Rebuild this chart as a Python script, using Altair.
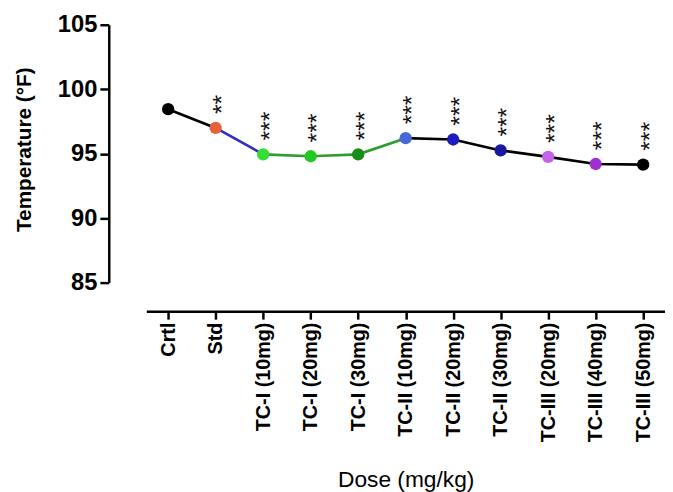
import altair as alt
import pandas as pd

doses = ["Crtl", "Std", "TC-I (10mg)", "TC-I (20mg)", "TC-I (30mg)",
         "TC-II (10mg)", "TC-II (20mg)", "TC-II (30mg)",
         "TC-III (20mg)", "TC-III (40mg)", "TC-III (50mg)"]
temps = [98.45, 97.0, 94.95, 94.8, 94.95, 96.2, 96.1, 95.25, 94.75, 94.2, 94.15]
signif = ["", "**", "***", "***", "***", "***", "***", "***", "***", "***", "***"]
y_ticks = [85, 90, 95, 100, 105]

point_colors = ["#000000", "#e2643c", "#35de35", "#22c822", "#1a8c1a",
                "#4868d8", "#1c1cc0", "#1818a0", "#c462ea", "#a02ed2", "#000000"]
# line segments: (segment id, first index, last index)
segments = [("A", 0, 1), ("B", 1, 2), ("C", 2, 5), ("D", 5, 10)]
segment_colors = ["#000000", "#3030bc", "#2e9c2e", "#000000"]

pts = pd.DataFrame({"dose": doses, "temp": temps, "sig": signif})
rows = []
for seg, a, b in segments:
    for i in range(a, b + 1):
        rows.append({"dose": doses[i], "temp": temps[i], "seg": seg, "ord": i})
lines_df = pd.DataFrame(rows)

FONT = "Liberation Sans"

x_enc = alt.X(
    "dose:N",
    scale=alt.Scale(type="point", domain=doses, padding=0.46),
    axis=alt.Axis(
        title="Dose (mg/kg)", labelAngle=270, labelFont=FONT, labelFontWeight="bold",
        labelFontSize=20, labelPadding=3, tickSize=8, tickWidth=2.5, domainWidth=2.5,
        offset=29, titleFont=FONT, titleFontSize=23, titleFontWeight="normal",
        titleY=170, titleBaseline="middle",
    ),
)
y_enc = alt.Y(
    "temp:Q",
    scale=alt.Scale(domain=[85, 105], nice=False, zero=False),
    axis=alt.Axis(
        title="Temperature (°F)", values=y_ticks, offset=38, tickSize=9, tickWidth=2.5,
        domainWidth=2.5, labelFont=FONT, labelFontSize=24, labelFontWeight="bold",
        labelPadding=3, titleFont=FONT, titleFontSize=21, titleFontWeight="bold",
        titleX=-85, titleY=126, titleAngle=270, titleAlign="center",
        titleBaseline="middle",
    ),
)

lines = alt.Chart(lines_df).mark_line(strokeWidth=2.7).encode(
    x=x_enc, y=y_enc, detail="seg:N",
    stroke=alt.Stroke("seg:N", scale=alt.Scale(domain=[s[0] for s in segments], range=segment_colors), legend=None),
    order="ord:Q",
)
points = alt.Chart(pts).mark_circle(size=155, opacity=1).encode(
    x=x_enc, y=y_enc,
    fill=alt.Fill("dose:N", scale=alt.Scale(domain=doses, range=point_colors), legend=None),
)
stars = alt.Chart(pts).mark_text(
    angle=270, align="left", baseline="middle", dx=14, dy=7,
    fontSize=25, font=FONT, color="#111111",
).encode(x=x_enc, y=y_enc, text="sig:N")

chart = alt.layer(lines, points, stars).properties(
    width=525, height=261,
    padding={"left": 140, "top": 14, "right": 0, "bottom": 209},
    autosize=alt.AutoSizeParams(type="none"),
).configure_view(stroke=None).configure_axis(
    grid=False, domainColor="black", tickColor="black", labelColor="black", titleColor="black"
)

chart.save("out.html", embed_options={"renderer": "svg", "actions": False})
